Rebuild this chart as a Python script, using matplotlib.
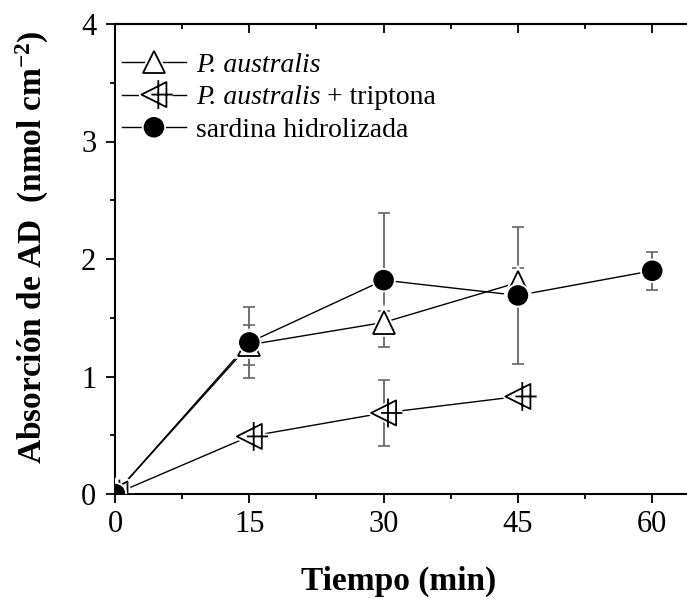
import numpy as np
import matplotlib
matplotlib.use("Agg")
import matplotlib.pyplot as plt
import matplotlib.patheffects as pe
from matplotlib.path import Path

plt.rcParams['font.family'] = ['Liberation Serif', 'DejaVu Serif']
plt.rcParams['mathtext.fontset'] = 'custom'
plt.rcParams['mathtext.rm'] = 'Liberation Serif'
plt.rcParams['mathtext.it'] = 'Liberation Serif:italic'
plt.rcParams['mathtext.bf'] = 'Liberation Serif:bold'

# data
t_aus = [0, 15, 30, 45]
y_aus = [0.0, 1.27, 1.46, 1.80]
e_aus = [0.0, 0.17, 0.10, 0.12]

t_trip = [0, 15, 30, 45]
y_trip = [0.0, 0.49, 0.69, 0.83]
e_trip = [0.0, 0.0, 0.28, 0.02]

t_sard = [0, 15, 30, 45, 60]
y_sard = [0.0, 1.29, 1.82, 1.69, 1.90]
e_sard = [0.0, 0.30, 0.57, 0.58, 0.16]

labels = ['P. australis', 'P. australis', 'sardina hidrolizada']

# left-pointing triangle with a cross, like the Origin symbol
tri_cross = Path(
    [(-1, 0), (1, 1), (1, -1), (-1, 0),
     (0.35, -1.15), (0.35, 1.15),
     (-0.2, 0), (1.5, 0)],
    [Path.MOVETO, Path.LINETO, Path.LINETO, Path.CLOSEPOLY,
     Path.MOVETO, Path.LINETO,
     Path.MOVETO, Path.LINETO])

fig = plt.figure(figsize=(6.87, 5.99), dpi=100)
ax = fig.add_axes([115 / 687, 1 - 494 / 599, 582 / 687, 470 / 599])

halo = [pe.Stroke(linewidth=4, foreground='white'), pe.Normal()]

def series(t, y, e, marker, mfc, label, ms):
    ax.errorbar(t, y, yerr=e, fmt='none', ecolor='0.4', elinewidth=1.3,
                capsize=4, capthick=1.2, zorder=1)
    ax.plot(t, y, '-', color='black', lw=1, zorder=2)
    ax.plot(t, y, linestyle='none', marker=marker, ms=ms, mfc=mfc,
            mec='black', mew=1.3, zorder=3, path_effects=halo)
    # proxy for legend
    return ax.plot([], [], '-', color='black', lw=1, marker=marker, ms=ms,
                   mfc=mfc, mec='black', mew=1.3, label=label,
                   path_effects=halo)[0]

h1 = series(t_aus, y_aus, e_aus, '^', 'white', labels[0], 16)
h2 = series(t_trip, y_trip, e_trip, tri_cross, 'white', labels[1], 27)
h3 = series(t_sard, y_sard, e_sard, 'o', 'black', labels[2], 13.5)

ax.set_xlim(0, 65)
ax.set_ylim(0, 4)
ax.set_xticks([0, 15, 30, 45, 60])
ax.set_xticks([7.5, 22.5, 37.5, 52.5], minor=True)
ax.set_yticks([0, 1, 2, 3, 4])
ax.set_yticks([0.5, 1.5, 2.5, 3.5], minor=True)
ax.tick_params(which='major', direction='out', length=6.5, width=1.3,
               labelsize=22, pad=5)
ax.tick_params(axis='y', which='major', pad=7)
ax.tick_params(which='minor', direction='out', length=3.6, width=1.3)
ax.tick_params(axis='x', which='both', top=False)
for s in ax.spines.values():
    s.set_linewidth(1.5)

# top axis ticks point inwards
sec = ax.secondary_xaxis('top')
sec.set_xticks([0, 15, 30, 45, 60], labels=[])
sec.set_xticks([7.5, 22.5, 37.5, 52.5], minor=True)
sec.tick_params(which='major', direction='in', length=6.5, width=1.3)
sec.tick_params(which='minor', direction='in', length=3.6, width=1.3)
sec.spines['top'].set_linewidth(1.5)

ax.set_xlabel('Tiempo (min)', fontsize=24, fontweight='bold')
ax.xaxis.set_label_coords(0.488, -0.153)
ax.set_ylabel('Absorción de AD  (nmol cm$^{\\mathbf{-2}}$)', fontsize=24,
              fontweight='bold')
ax.yaxis.set_label_coords(-0.110, 0.525)

leg = ax.legend(handles=[h1, h2, h3], loc='upper left', frameon=False,
                fontsize=20, handlelength=2.3, handletextpad=0.36,
                labelspacing=0.26, borderpad=0, borderaxespad=0,
                bbox_to_anchor=(0.012, 0.94))
texts = leg.get_texts()
texts[0].set_fontstyle('italic')
texts[1].set_fontstyle('italic')
ax.annotate(' + triptona', xy=(1, 0), xycoords=texts[1], ha='left',
            va='bottom', fontsize=20, zorder=10)

fig.savefig('out.png', dpi=100)
